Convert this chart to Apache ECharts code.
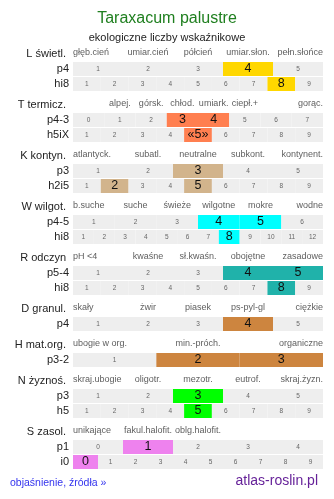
<!DOCTYPE html>
<html><head><meta charset="utf-8">
<script src="https://cdn.jsdelivr.net/npm/echarts@6/dist/echarts.min.js"></script>
<style>html,body{margin:0;padding:0;background:#fff}#c{width:334px;height:499px}</style>
</head><body><div id="c"></div>
<script>
// ---- data ----
const TITLE = 'Taraxacum palustre';
const SUBTITLE = 'ekologiczne liczby wskaźnikowe';
const SECTION_NAMES = ['L świetl.','T termicz.','K kontyn.','W wilgot.','R odczyn','D granul.','H mat.org.','N żyznoś.','S zasol.'];

const L_cats = ['głęb.cień','umiar.cień','półcień','umiar.słon.','pełn.słońce'];
const L_rows = ['p4','hi8'];
const L_p = ['1','2','3','4','5'];                 const L_p_hit = ['4'];
const L_h = ['1','2','3','4','5','6','7','8','9']; const L_h_hit = ['8'];

const T_cats = ['','alpej.','górsk.','chłod.','umiark.','ciepł.+','','gorąc.'];
const T_rows = ['p4-3','h5iX'];
const T_p = ['0','1','2','3','4','5','6','7'];       const T_p_hit = ['3','4'];
const T_h = ['1','2','3','4','«5»','6','7','8','9']; const T_h_hit = ['«5»'];

const K_cats = ['atlantyck.','subatl.','neutralne','subkont.','kontynent.'];
const K_rows = ['p3','h2i5'];
const K_p = ['1','2','3','4','5'];                 const K_p_hit = ['3'];
const K_h = ['1','2','3','4','5','6','7','8','9']; const K_h_hit = ['2','5'];

const W_cats = ['b.suche','suche','świeże','wilgotne','mokre','wodne'];
const W_rows = ['p4-5','hi8'];
const W_p = ['1','2','3','4','5','6'];             const W_p_hit = ['4','5'];
const W_h = ['1','2','3','4','5','6','7','8','9','10','11','12']; const W_h_hit = ['8'];

const R_cats = ['pH <4','kwaśne','sł.kwaśn.','obojętne','zasadowe'];
const R_rows = ['p5-4','hi8'];
const R_p = ['1','2','3','4','5'];                 const R_p_hit = ['4','5'];
const R_h = ['1','2','3','4','5','6','7','8','9']; const R_h_hit = ['8'];

const D_cats = ['skały','żwir','piasek','ps-pyl-gl','ciężkie'];
const D_rows = ['p4'];
const D_p = ['1','2','3','4','5'];                 const D_p_hit = ['4'];

const H_cats = ['ubogie w org.','min.-próch.','organiczne'];
const H_rows = ['p3-2'];
const H_p = ['1','2','3'];                         const H_p_hit = ['2','3'];

const N_cats = ['skraj.ubogie','oligotr.','mezotr.','eutrof.','skraj.żyzn.'];
const N_rows = ['p3','h5'];
const N_p = ['1','2','3','4','5'];                 const N_p_hit = ['3'];
const N_h = ['1','2','3','4','5','6','7','8','9']; const N_h_hit = ['5'];

const S_cats = ['unikające','fakul.halofit.','oblg.halofit.','',''];
const S_rows = ['p1','i0'];
const S_p = ['0','1','2','3','4'];                 const S_p_hit = ['1'];
const S_h = ['0','1','2','3','4','5','6','7','8','9']; const S_h_hit = ['0'];

const FOOT_LEFT = 'objaśnienie, źródła »';
const FOOT_RIGHT = 'atlas-roslin.pl';

// ---- styles / layout ----
const COLORS = ['#FFD700','#FF7F50','#D2B48C','#00FFFF','#20B2AA','#CD853F','#CD853F','#00FF00','#EE82EE'];
const FONT = '"Liberation Sans", Arial, sans-serif';
const GRID_LEFT = 73, GRID_W = 250, ROW_H = 14, ROW_STEP = 15, SEC_GAP = 21, FIRST_TOP = 62;

const sections = [
  [L_cats, [[L_rows[0], L_p, L_p_hit], [L_rows[1], L_h, L_h_hit]]],
  [T_cats, [[T_rows[0], T_p, T_p_hit], [T_rows[1], T_h, T_h_hit]]],
  [K_cats, [[K_rows[0], K_p, K_p_hit], [K_rows[1], K_h, K_h_hit]]],
  [W_cats, [[W_rows[0], W_p, W_p_hit], [W_rows[1], W_h, W_h_hit]]],
  [R_cats, [[R_rows[0], R_p, R_p_hit], [R_rows[1], R_h, R_h_hit]]],
  [D_cats, [[D_rows[0], D_p, D_p_hit]]],
  [H_cats, [[H_rows[0], H_p, H_p_hit]]],
  [N_cats, [[N_rows[0], N_p, N_p_hit], [N_rows[1], N_h, N_h_hit]]],
  [S_cats, [[S_rows[0], S_p, S_p_hit], [S_rows[1], S_h, S_h_hit]]]
];

const grid = [], xAxis = [], yAxis = [], series = [];
const graphic = [
  {type:'text', x:167, y:19, style:{text:TITLE, fill:'#1f7f1f', font:'16px '+FONT, textAlign:'center', textVerticalAlign:'middle'}},
  {type:'text', x:167, y:38, style:{text:SUBTITLE, fill:'#222', font:'11px '+FONT, textAlign:'center', textVerticalAlign:'middle'}},
  {type:'text', x:10, y:483, style:{text:FOOT_LEFT, fill:'#3333ee', font:'10.5px '+FONT, textAlign:'left', textVerticalAlign:'middle'}},
  {type:'text', x:318, y:481, style:{text:FOOT_RIGHT, fill:'#662299', font:'14px '+FONT, textAlign:'right', textVerticalAlign:'middle'}}
];

let curTop = FIRST_TOP;
sections.forEach(([cats, rows], si) => {
  const color = COLORS[si];
  graphic.push({type:'text', x:66, y:curTop - 8.5, style:{text:SECTION_NAMES[si], fill:'#222', font:'11px '+FONT, textAlign:'right', textVerticalAlign:'middle'}});
  rows.forEach(([rowName, cells, hit], ri) => {
    const gi = grid.length;
    grid.push({left:GRID_LEFT, width:GRID_W, top: curTop + ri*ROW_STEP, height: ROW_H});
    const xi = xAxis.length;
    xAxis.push({type:'category', gridIndex:gi, data:cells, boundaryGap:true, position:'bottom',
      axisLine:{show:false}, axisTick:{show:false}, axisLabel:{show:false}, splitLine:{show:false}});
    yAxis.push({type:'value', gridIndex:gi, min:0, max:1, interval:0.5,
      axisLine:{show:false}, axisTick:{show:false}, splitLine:{show:false},
      axisLabel:{margin:4, fontSize:11, fontFamily:FONT, color:'#222', formatter: v => v === 0.5 ? rowName : ''}});
    series.push({type:'bar', xAxisIndex:xi, yAxisIndex:gi, barWidth:'100%', silent:true, animation:false,
      data: cells.map(c => {
        const on = hit.indexOf(c) >= 0;
        return {value:1, itemStyle:{color: on ? color : '#eeeeee'},
          label:{show:true, position:'inside', formatter:c, fontFamily:FONT,
                 fontSize: on ? 12.5 : 6.5, color: on ? '#111' : '#666'}};
      })});
    if (ri === 0) {
      const n = cells.length;
      const hx = xAxis.length;
      xAxis.push({type:'value', gridIndex:gi, min:0, max:n, position:'top', show:false});
      const pts = [];
      cats.forEach((t, i) => {
        if (!t) return;
        let align = 'center', x = i + 0.5;
        if (i === 0) { align = 'left'; x = 0; }
        else if (i === n - 1) { align = 'right'; x = n; }
        pts.push({value:[x, 1], label:{show:true, formatter:t, align:align}});
      });
      series.push({type:'scatter', xAxisIndex:hx, yAxisIndex:gi, symbolSize:1, clip:false, silent:true, animation:false,
        itemStyle:{color:'rgba(0,0,0,0)'}, z:5,
        label:{show:true, position:'top', distance:4, fontSize:9, fontFamily:FONT, color:'#333'},
        labelLayout:{hideOverlap:false},
        data: pts});
    }
  });
  curTop += rows.length*ROW_STEP + SEC_GAP;
});

const chart = echarts.init(document.getElementById('c'), null, {renderer:'canvas'});
chart.setOption({animation:false, grid, xAxis, yAxis, series, graphic});
</script>
</body></html>
